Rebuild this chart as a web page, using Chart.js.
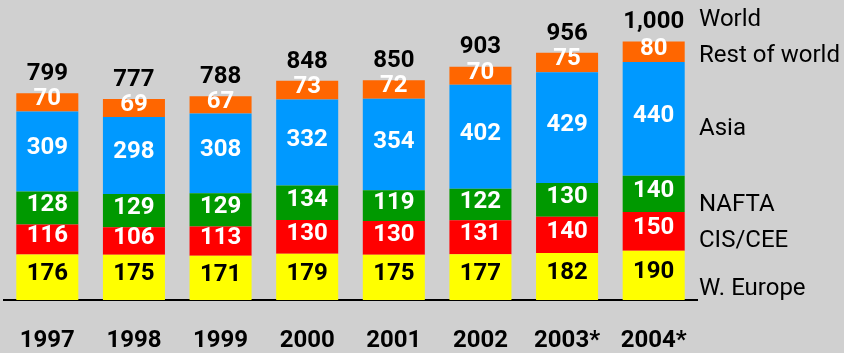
<!DOCTYPE html>
<html>
<head>
<meta charset="utf-8">
<script src="https://cdn.jsdelivr.net/npm/chart.js@4"></script>
<style>
  html, body { margin: 0; padding: 0; background: #d0d0d0; }
  canvas { display: block; }
</style>
</head>
<body>
<canvas id="myChart" width="844" height="353"></canvas>
<script>
const years = ['1997', '1998', '1999', '2000', '2001', '2002', '2003*', '2004*'];
const wEurope = [176, 175, 171, 179, 175, 177, 182, 190];
const cisCee = [116, 106, 113, 130, 130, 131, 140, 150];
const nafta = [128, 129, 129, 134, 119, 122, 130, 140];
const asia = [309, 298, 308, 332, 354, 402, 429, 440];
const restOfWorld = [70, 69, 67, 73, 72, 70, 75, 80];
const worldTotals = [799, 777, 788, 848, 850, 903, 956, 1000];
const seriesNames = ['W. Europe', 'CIS/CEE', 'NAFTA', 'Asia', 'Rest of world'];

const FONT = 'Roboto, "Liberation Sans", sans-serif';

// segment values, totals and the series names down the right side
const labelsPlugin = {
  id: 'labels',
  afterDatasetsDraw: (chart) => {
    const {ctx, chartArea} = chart;
    const yScale = chart.scales.y;
    ctx.save();
    ctx.textAlign = 'center';
    ctx.textBaseline = 'middle';
    ctx.font = 'bold 24px ' + FONT;
    chart.data.datasets.forEach((ds, di) => {
      const meta = chart.getDatasetMeta(di);
      meta.data.forEach((bar, i) => {
        const mid = (bar.y + bar.base) / 2;
        ctx.fillStyle = ds.textColor;
        ctx.fillText(ds.data[i], bar.x, mid - 3);
      });
    });
    // totals above the stacks
    ctx.fillStyle = '#000';
    const first = chart.getDatasetMeta(0);
    worldTotals.forEach((v, i) => {
      const x = first.data[i].x;
      ctx.fillText(v.toLocaleString('en-US'), x, yScale.getPixelForValue(v) - 19);
    });
    // series names beside the last column
    ctx.textAlign = 'left';
    ctx.font = '24px ' + FONT;
    const nudge = [14, 10, 11, 10, 4];
    const last = years.length - 1;
    chart.data.datasets.forEach((ds, di) => {
      const bar = chart.getDatasetMeta(di).data[last];
      ctx.fillText(ds.label, chartArea.right + 2, (bar.y + bar.base) / 2 + nudge[di]);
    });
    ctx.fillText('World', chartArea.right + 2, yScale.getPixelForValue(worldTotals[last]) - 21);
    ctx.restore();
  }
};

const seriesValues = [wEurope, cisCee, nafta, asia, restOfWorld];
const colors = ['#ffff00', '#ff0000', '#009900', '#0099ff', '#ff6600'];
const textColors = ['#000', '#fff', '#fff', '#fff', '#fff'];

const data = {
  labels: years,
  datasets: seriesNames.map((name, i) => ({
    label: name,
    data: seriesValues[i],
    backgroundColor: colors[i],
    textColor: textColors[i],
    borderWidth: 0,
    barPercentage: 0.716,
    categoryPercentage: 1
  }))
};

const config = {
  type: 'bar',
  data: data,
  options: {
    responsive: false,
    devicePixelRatio: 1,
    animation: false,
    layout: {
      padding: {left: 4, right: 147, top: 0, bottom: 0}
    },
    plugins: {
      legend: {display: false},
      tooltip: {enabled: false}
    },
    scales: {
      x: {
        stacked: true,
        grid: {display: false, drawTicks: false},
        border: {display: true, color: '#000', width: 2},
        ticks: {
          color: '#000',
          padding: 27,
          maxRotation: 0,
          font: {family: FONT, size: 24, weight: 'bold'}
        },
        afterFit: (scale) => {
          scale.height = 53;
          scale.paddingLeft = 0;
          scale.paddingRight = 0;
        }
      },
      y: {
        stacked: true,
        display: false,
        min: 0,
        max: 1160
      }
    }
  },
  plugins: [labelsPlugin]
};

const myChart = new Chart(document.getElementById('myChart'), config);
</script>
</body>
</html>
